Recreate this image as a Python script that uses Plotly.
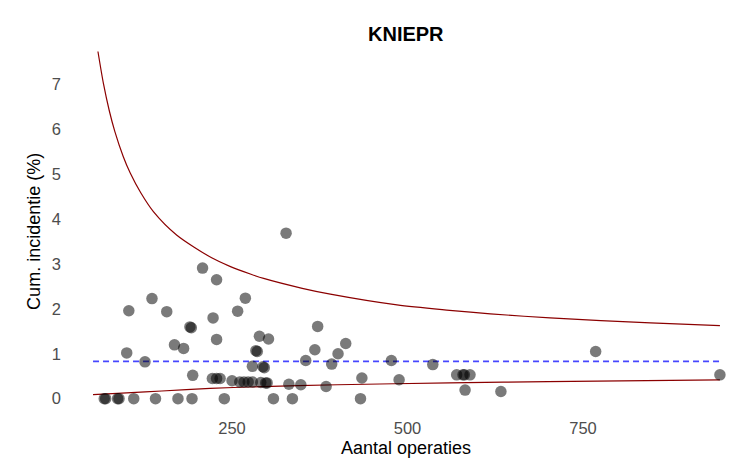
import plotly.graph_objs as go

# Funnel plot data
n_operaties = [68, 70, 87, 89, 110, 141, 173, 193, 239, 309, 336, 433,
               100, 103, 126, 136, 157, 168, 181, 190, 192, 194, 208, 223,
               228, 228, 222, 228, 233, 250, 258, 261, 267, 273, 279, 269,
               279, 284, 286, 289, 291, 294, 296, 298, 300, 302, 327, 331,
               348, 355, 368, 372, 384, 392, 401, 412, 435, 477, 488, 536,
               570, 579, 581, 589, 582, 633, 768, 945]
cum_incidentie = [0, 0, 0, 0, 0, 0, 0, 0, 0, 0, 0, 0,
                  1.02, 1.96, 0.82, 2.23, 1.94, 1.20, 1.12, 1.60, 1.58, 0.52, 2.91, 1.80,
                  2.65, 1.32, 0.45, 0.45, 0.45, 0.40, 1.95, 0.37, 0.37, 0.37, 0.37, 2.24,
                  0.72, 1.07, 1.05, 1.39, 0.36, 0.71, 0.69, 0.35, 0.35, 1.33, 3.69, 0.32,
                  0.31, 0.85, 1.09, 1.61, 0.27, 0.77, 1.00, 1.23, 0.46, 0.85, 0.42, 0.76,
                  0.53, 0.53, 0.53, 0.53, 0.19, 0.16, 1.05, 0.53]

# Control limits
upper_n = [59, 67, 75, 83, 95, 105, 120, 138, 171, 221, 247, 276, 295,
           350, 390, 485, 560, 618, 703, 846, 945]
upper_y = [7.74, 7.01, 6.43, 5.96, 5.40, 5.03, 4.59, 4.17, 3.65, 3.14, 2.95, 2.78, 2.68,
           2.46, 2.33, 2.09, 1.97, 1.89, 1.80, 1.69, 1.63]
lower_n = [52, 100, 150, 219, 275, 400, 560, 700, 945]
lower_y = [0.09, 0.13, 0.17, 0.23, 0.26, 0.31, 0.35, 0.38, 0.42]

gemiddelde_n = [52, 945]
gemiddelde = 0.83

font = 'Liberation Sans, Arial, sans-serif'

# page body has an 8px margin, so the figure is 8px smaller on each side
fig = go.Figure(
    layout={'width': 740,
            'height': 453,
            'showlegend': False}
)

fig.add_trace(go.Scatter(
    x=upper_n,
    y=upper_y,
    mode='lines',
    line=dict(width=1.2, color='#8B0000', shape='spline', smoothing=0.8),
    hoverinfo='skip'
))
fig.add_trace(go.Scatter(
    x=lower_n,
    y=lower_y,
    mode='lines',
    line=dict(width=1.2, color='#8B0000', shape='spline', smoothing=0.8),
    hoverinfo='skip'
))
fig.add_trace(go.Scatter(
    x=gemiddelde_n,
    y=[gemiddelde] * len(gemiddelde_n),
    mode='lines',
    line=dict(width=1.6, color='rgba(0,0,255,0.72)', dash='6px,4px'),
    hoverinfo='skip'
))
fig.add_trace(go.Scatter(
    x=n_operaties,
    y=cum_incidentie,
    mode='markers',
    marker=dict(size=11.5, color='rgba(0,0,0,0.52)', line=dict(width=0))
))

fig.update_layout(
    plot_bgcolor='white',
    paper_bgcolor='white',
    margin=dict(l=54, r=0, t=26, b=45, autoexpand=False),
    font=dict(family=font, color='#4d4d4d'),
    xaxis=dict(range=[7.8, 985], tickvals=[250, 500, 750], showgrid=False, zeroline=False,
               showline=False, ticks='', automargin=False,
               tickfont=dict(size=16.5, color='#4d4d4d')),
    yaxis=dict(range=[-0.387, 8.13], tickvals=[0, 1, 2, 3, 4, 5, 6, 7], showgrid=False,
               zeroline=False, showline=False, ticks='', automargin=False,
               tickfont=dict(size=16.5, color='#4d4d4d')),
    annotations=[
        dict(text='<b>KNIEPR</b>', xref='paper', yref='paper', x=0.5015, y=1,
             xanchor='center', yanchor='middle', showarrow=False,
             font=dict(family=font, size=20, color='black')),
        dict(text='Aantal operaties', xref='paper', yref='paper', x=0.5015, y=0,
             yshift=-32, xanchor='center', yanchor='middle', showarrow=False,
             font=dict(family=font, size=18, color='black')),
        dict(text='Cum. incidentie (%)', xref='paper', yref='paper', x=0, y=0.482,
             xshift=-28, xanchor='center', yanchor='middle', textangle=-90, showarrow=False,
             font=dict(family=font, size=18, color='black')),
    ]
)

fig.write_html("out.html")
